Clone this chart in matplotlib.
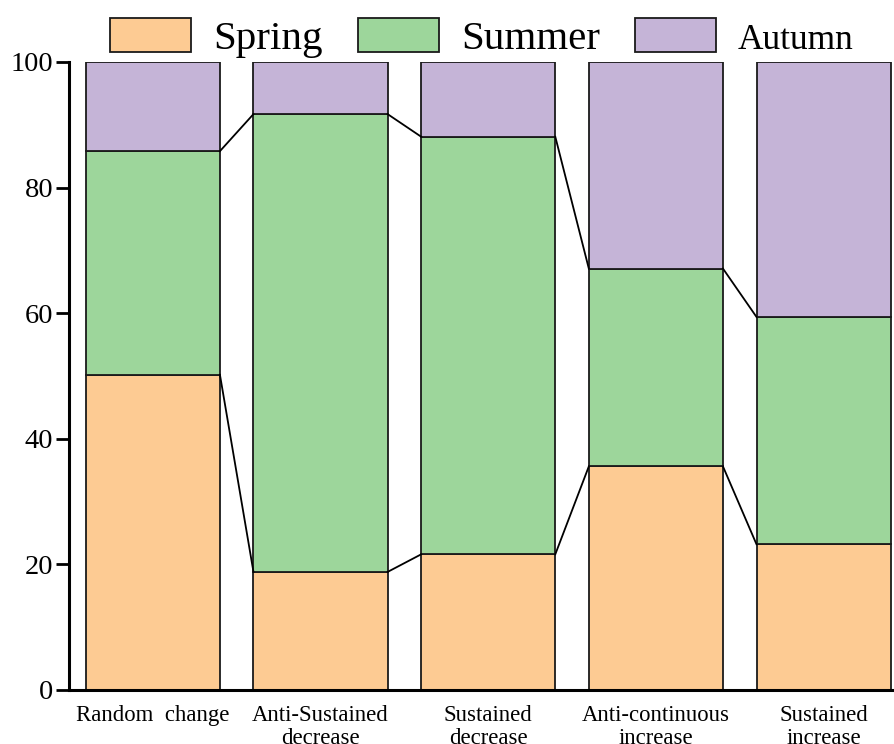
import matplotlib
matplotlib.use("Agg")
import matplotlib.pyplot as plt
import numpy as np

categories = ["Random  change", "Anti-Sustained\ndecrease", "Sustained\ndecrease",
              "Anti-continuous\nincrease", "Sustained\nincrease"]
spring = [50.2, 18.8, 21.6, 35.6, 23.2]
summer = [35.6, 72.9, 66.5, 31.5, 36.2]
autumn = [14.2, 8.3, 11.9, 32.9, 40.6]
series_names = ["Spring", "Summer", "Autumn"]
colors = ["#FDCB93", "#9DD69B", "#C5B4D7"]

plt.rcParams['font.family'] = ['Liberation Serif', 'DejaVu Serif']

fig = plt.figure(figsize=(8.94, 7.44), dpi=100)
ax = fig.add_axes([0.0772, 0.0726, 0.9228, 0.8441])

x = np.arange(len(categories))
w = 0.8
bottoms = np.zeros(len(categories))
handles = []
cum_tops = []
for vals, name, c in zip([spring, summer, autumn], series_names, colors):
    vals = np.array(vals)
    b = ax.bar(x, vals, w, bottom=bottoms, color=c, edgecolor="#1a1a1a",
               linewidth=1.3, label=name, zorder=2)
    handles.append(b)
    bottoms = bottoms + vals
    cum_tops.append(bottoms.copy())

# connecting lines
for tops in cum_tops[:2]:
    for i in range(len(categories) - 1):
        ax.plot([x[i] + w / 2, x[i + 1] - w / 2], [tops[i], tops[i + 1]],
                color="black", linewidth=1.3, zorder=3)

ax.set_xlim(-0.5, 4.42)
ax.set_ylim(0, 100)
ax.set_yticks([0, 20, 40, 60, 80, 100])
ax.set_xticks(x)
ax.set_xticklabels(categories, fontsize=16.4, linespacing=1.1)
ax.tick_params(axis='y', direction='out', length=9.5, width=2, labelsize=20.5, pad=2)
ax.tick_params(axis='x', direction='in', length=9.5, width=2, pad=11)
for s in ['top', 'right']:
    ax.spines[s].set_visible(False)
for s in ['left', 'bottom']:
    ax.spines[s].set_linewidth(2.2)

leg = fig.legend(handles=handles, labels=series_names, loc='upper center',
                 bbox_to_anchor=(0.539, 1.026), ncol=3, frameon=False,
                 fontsize=29.5, handlelength=1.98, handleheight=0.93,
                 columnspacing=0.85, handletextpad=0.54)
leg.get_texts()[2].set_fontsize(25.5)

fig.savefig("out.png", dpi=100)
